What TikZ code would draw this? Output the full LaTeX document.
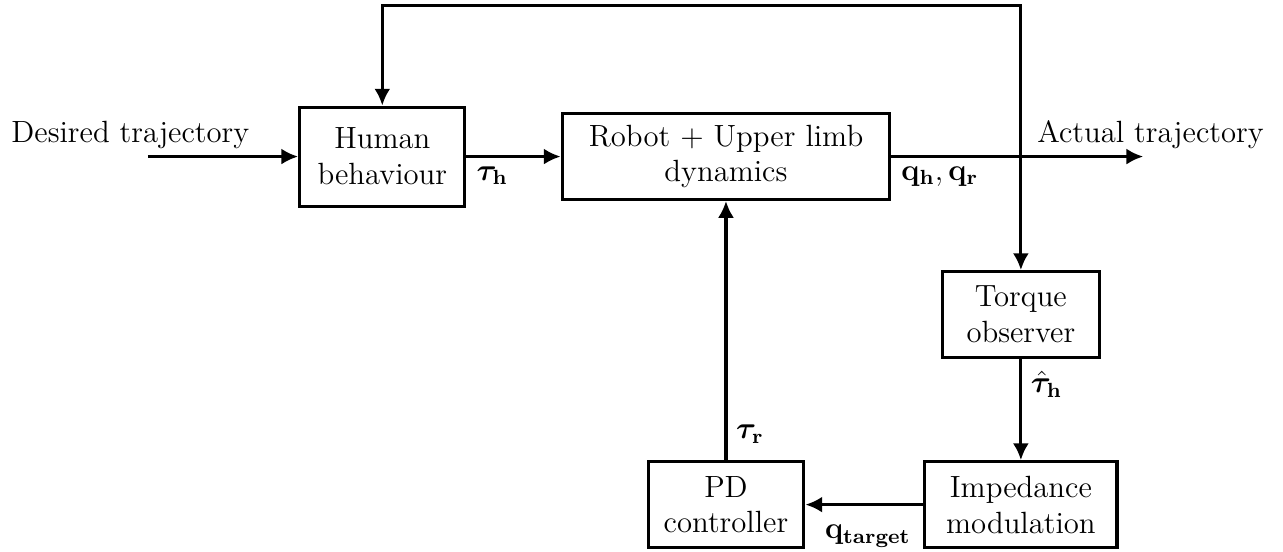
\documentclass[tikz,border=0pt]{standalone}
\usepackage{amsmath,bm}
\usetikzlibrary{positioning,arrows.meta}

\tikzset{block/.style={draw, very thick, align=center, minimum height=1.18cm}}

\begin{document}
\begin{tikzpicture}[>={Latex[length=2.3mm,width=2.2mm]}, very thick, font=\large]
\useasboundingbox (0,0) rectangle (17.62,7.58);

% blocks
\node[block, minimum width=2.27cm, minimum height=1.36cm] (human) at (5.25,5.43) {Human\\behaviour};
\node[block, minimum width=4.5cm] (robot) at (9.97,5.43) {Robot + Upper limb\\dynamics};
\node[block, minimum width=2.16cm] (torque) at (14.02,3.26) {Torque\\observer};
\node[block, minimum width=2.64cm] (imped) at (14.02,0.65) {Impedance\\modulation};
\node[block, minimum width=2.14cm] (pd) at (9.97,0.65) {PD\\controller};

\coordinate (start) at (2.03,5.43);
\coordinate (end) at (15.7,5.43);
\coordinate (topr) at (14.02,7.51);

\node (desired) at (1.79,5.73) {Desired trajectory};
\node (actual) at (15.8,5.73) {Actual trajectory};

% signals
\draw[->] (start) -- (human);
\draw[->] (human) -- (robot) node[pos=0, below right]{$\bm{\tau}_\mathbf{h}$};
\draw[->] (robot) -- (end) node[pos=0, below right]{$\mathbf{q_h}, \mathbf{q_r}$};
\draw[<->] (human.north) |- (topr) -- (torque.north);
\draw[->] (torque) -- (imped) node[pos=0.25, right]{$\hat{\bm{\tau}}_\mathbf{h}$};
\draw[->] (imped) -- (pd) node[pos=0, below left=4pt and 1pt]{$\mathbf{q_{target}}$};
\draw[->] (pd) -- (robot) node[pos=0.1, right]{$\bm{\tau}_\mathbf{r}$};

\end{tikzpicture}
\end{document}
